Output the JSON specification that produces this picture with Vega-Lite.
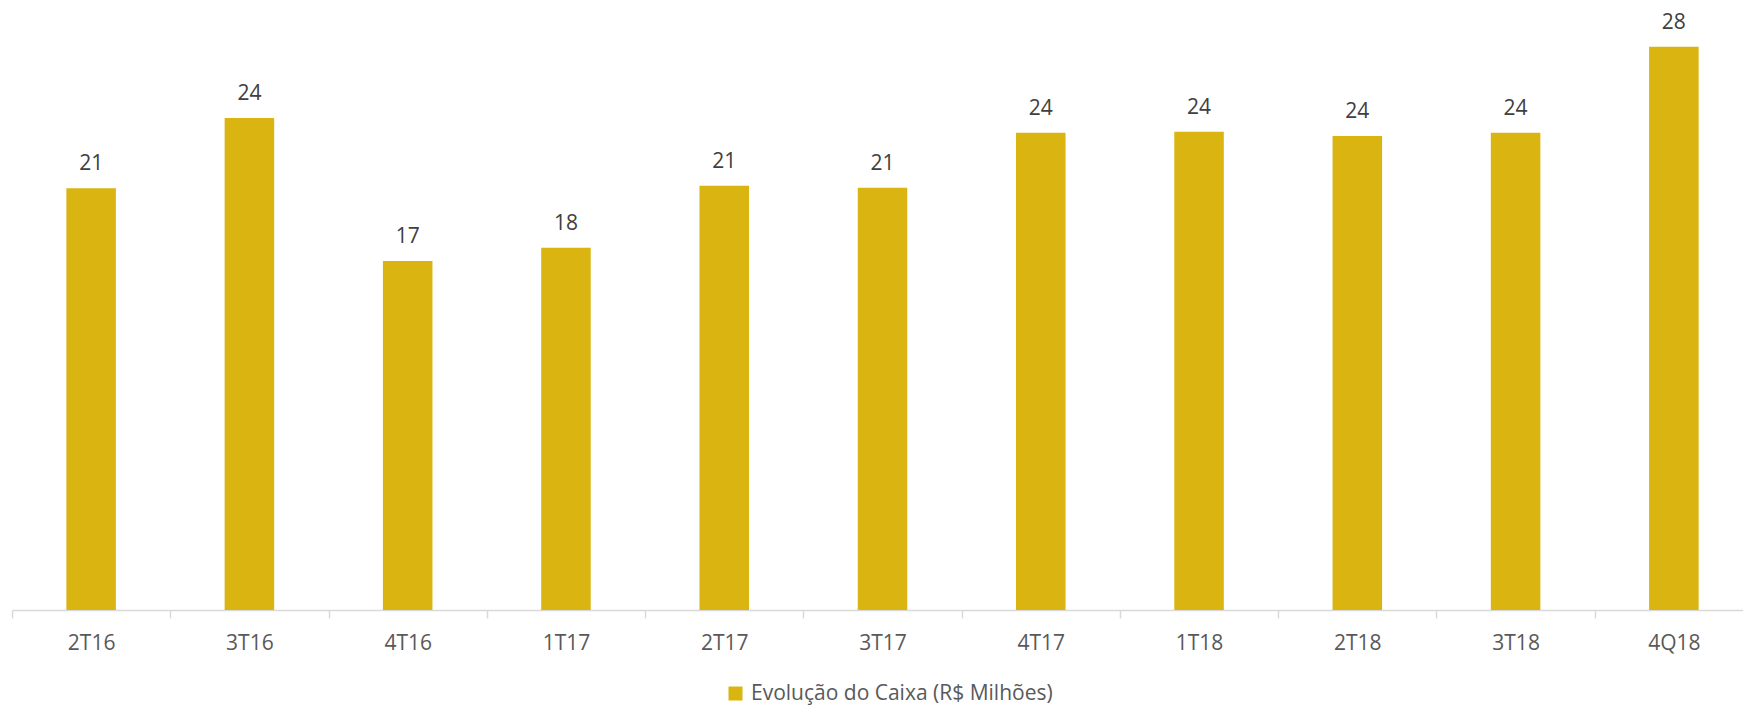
{
  "$schema": "https://vega.github.io/schema/vega-lite/v6.json",
  "autosize": {"type": "none"},
  "width": 1731,
  "height": 610,
  "padding": {"left": 12, "top": 0, "right": 0, "bottom": 95},
  "background": "white",
  "config": {
    "view": {"stroke": null},
    "font": "Open Sans"
  },
  "data": {
    "values": [
      {"periodo": "2T16", "valor": 20.95, "rotulo": "21", "serie": "Evolução do Caixa (R$ Milhões)"},
      {"periodo": "3T16", "valor": 24.44, "rotulo": "24", "serie": "Evolução do Caixa (R$ Milhões)"},
      {"periodo": "4T16", "valor": 17.33, "rotulo": "17", "serie": "Evolução do Caixa (R$ Milhões)"},
      {"periodo": "1T17", "valor": 17.99, "rotulo": "18", "serie": "Evolução do Caixa (R$ Milhões)"},
      {"periodo": "2T17", "valor": 21.07, "rotulo": "21", "serie": "Evolução do Caixa (R$ Milhões)"},
      {"periodo": "3T17", "valor": 20.97, "rotulo": "21", "serie": "Evolução do Caixa (R$ Milhões)"},
      {"periodo": "4T17", "valor": 23.71, "rotulo": "24", "serie": "Evolução do Caixa (R$ Milhões)"},
      {"periodo": "1T18", "valor": 23.75, "rotulo": "24", "serie": "Evolução do Caixa (R$ Milhões)"},
      {"periodo": "2T18", "valor": 23.55, "rotulo": "24", "serie": "Evolução do Caixa (R$ Milhões)"},
      {"periodo": "3T18", "valor": 23.71, "rotulo": "24", "serie": "Evolução do Caixa (R$ Milhões)"},
      {"periodo": "4Q18", "valor": 27.98, "rotulo": "28", "serie": "Evolução do Caixa (R$ Milhões)"}
    ]
  },
  "encoding": {
    "x": {
      "field": "periodo",
      "type": "nominal",
      "sort": null,
      "scale": {"range": [0, 1741], "paddingInner": 0, "paddingOuter": 0},
      "axis": {
        "title": null,
        "labelAngle": 0,
        "labelFont": "Open Sans",
        "labelFontSize": 21,
        "labelColor": "#595959",
        "labelBaseline": "alphabetic",
        "labelPadding": 31,
        "tickBand": "extent",
        "tickSize": 8,
        "tickColor": "#D9D9D9",
        "tickWidth": 1.5,
        "domainColor": "#D9D9D9",
        "domainWidth": 1.5,
        "grid": false
      }
    },
    "y": {
      "field": "valor",
      "type": "quantitative",
      "scale": {"domain": [0, 30.3], "nice": false},
      "axis": null
    }
  },
  "layer": [
    {
      "mark": {"type": "bar", "width": {"band": 0.313}},
      "encoding": {
        "color": {
          "field": "serie",
          "type": "nominal",
          "scale": {"range": ["#DAB511"]},
          "legend": {
            "title": null,
            "orient": "none",
            "legendX": 713,
            "legendY": 683,
            "symbolType": "square",
            "symbolSize": 196,
            "symbolStrokeWidth": 0,
            "symbolOpacity": 1,
            "labelFont": "Open Sans",
            "labelFontSize": 21,
            "labelColor": "#595959",
            "labelOffset": 5,
            "labelLimit": 0
          }
        }
      }
    },
    {
      "mark": {"type": "text", "baseline": "alphabetic", "dy": -18, "fontSize": 21, "font": "Open Sans", "color": "#404040"},
      "encoding": {
        "text": {"field": "rotulo"}
      }
    }
  ]
}
